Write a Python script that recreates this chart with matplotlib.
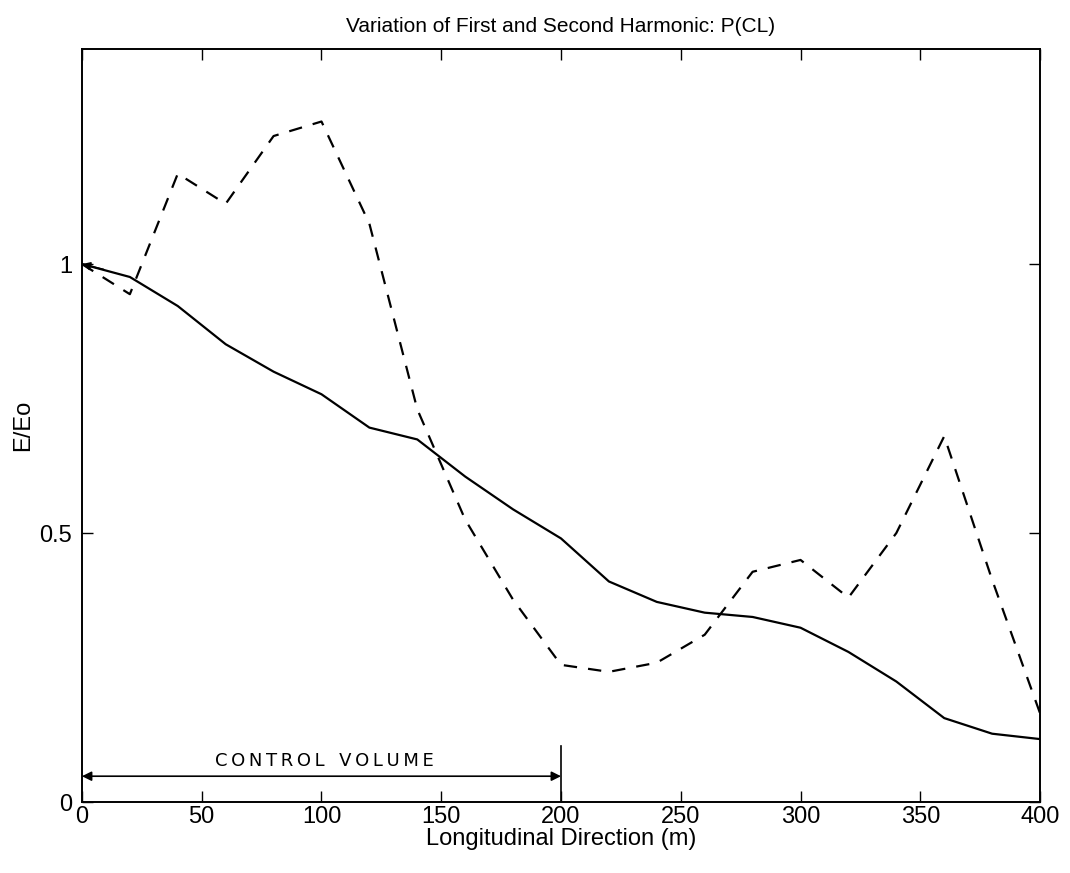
import matplotlib
matplotlib.use("Agg")
import matplotlib.pyplot as plt

x = [0, 20, 40, 60, 80, 100, 120, 140, 160, 180, 200, 220, 240, 260, 280, 300, 320, 340, 360, 380, 400]
first_harmonic = [1.0, 0.976, 0.922, 0.851, 0.80, 0.758, 0.696, 0.674, 0.605, 0.544, 0.49, 0.41, 0.372, 0.352, 0.344, 0.324, 0.279, 0.224, 0.156, 0.127, 0.117]
second_harmonic = [1.0, 0.944, 1.168, 1.112, 1.238, 1.265, 1.075, 0.73, 0.525, 0.376, 0.255, 0.242, 0.259, 0.311, 0.428, 0.45, 0.38, 0.50, 0.68, 0.413, 0.165]
xticks = [0, 50, 100, 150, 200, 250, 300, 350, 400]
yticks = [0, 0.5, 1]
ytick_labels = ["0", "0.5", "1"]

plt.rcParams['font.family'] = ['Liberation Sans', 'DejaVu Sans']

fig = plt.figure(figsize=(10.7, 8.73), dpi=100)
ax = fig.add_axes([0.0766, 0.0813, 0.8954, 0.8627])

ax.plot(x, first_harmonic, color='black', linewidth=1.6, linestyle='-')
ax.plot(x, second_harmonic, color='black', linewidth=1.6, linestyle=(0, (6, 5)))

ax.set_xlim(0, 400)
ax.set_ylim(0, 1.4)
ax.set_xticks(xticks)
ax.set_yticks(yticks)
ax.set_yticklabels(ytick_labels)
ax.tick_params(direction='in', top=True, right=True, length=8, width=1, labelsize=17)
ax.tick_params(axis='x', pad=3)
ax.tick_params(axis='y', pad=7)
for s in ax.spines.values():
    s.set_linewidth(1.4)

ax.set_title("Variation of First and Second Harmonic: P(CL)", fontsize=15, pad=12)
ax.set_xlabel("Longitudinal Direction (m)", fontsize=17, labelpad=0)
ax.set_ylabel("E/Eo", fontsize=17, labelpad=4)

# small hand-drawn arrowhead at the start of the solid line
ax.annotate("", xy=(0, 1.0), xytext=(9, 0.99),
            arrowprops=dict(arrowstyle='-|>', color='black', lw=1.2, mutation_scale=12,
                            shrinkA=0, shrinkB=0))

# control volume annotation
ax.annotate("", xy=(0, 0.048), xytext=(200, 0.048),
            arrowprops=dict(arrowstyle='<|-|>', color='black', lw=1.2, mutation_scale=14,
                            shrinkA=0, shrinkB=0))
ax.plot([200, 200], [0, 0.105], color='black', linewidth=1.2)
label = "\u2009".join("CONTROL") + "\u2009\u2009\u2009\u2009" + "\u2009".join("VOLUME")
ax.text(101, 0.060, label, ha='center', va='bottom', fontsize=13,
        family=['DejaVu Sans'])

fig.savefig("out.png", dpi=100)
